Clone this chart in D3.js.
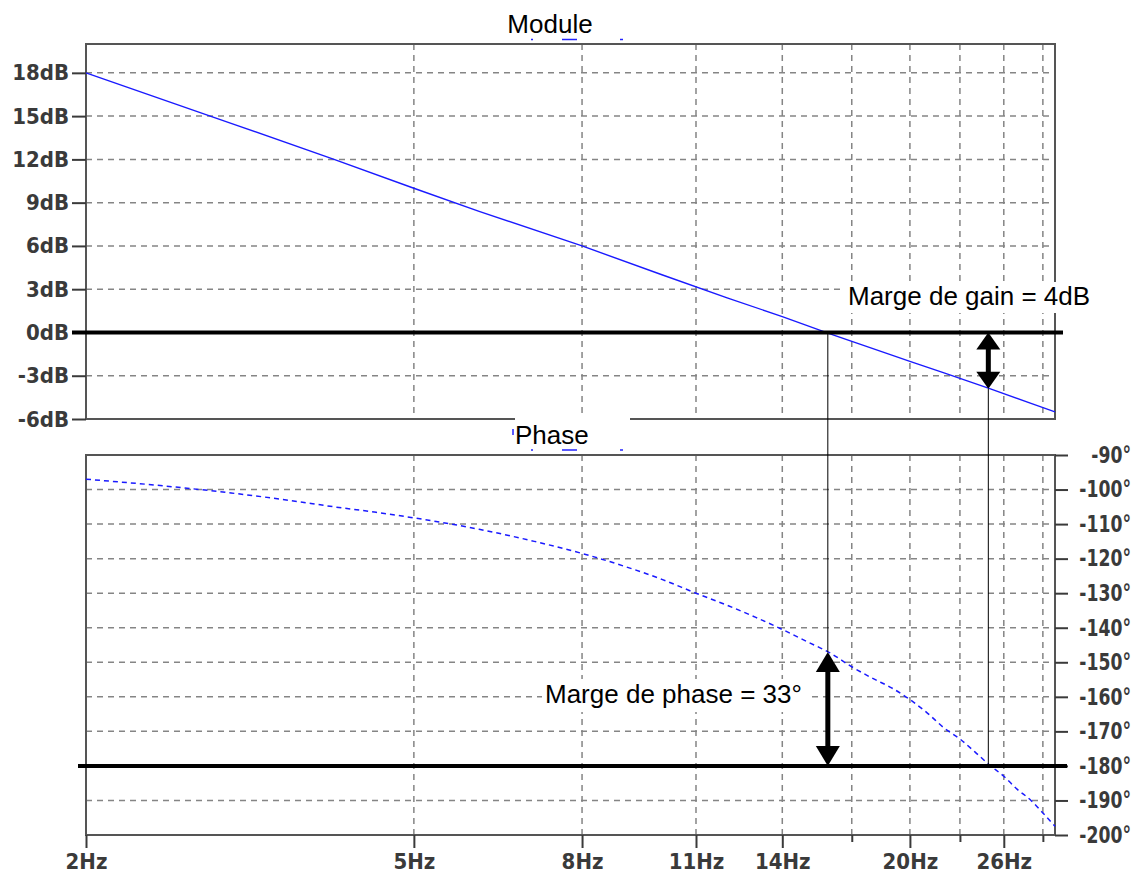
<!DOCTYPE html>
<html><head><meta charset="utf-8">
<script src="https://cdn.jsdelivr.net/npm/d3@7"></script>
<style>
body{margin:0;background:#fff;}
.ax text{font-family:"DejaVu Sans Condensed","DejaVu Sans";font-stretch:condensed;font-weight:bold;font-size:22px;fill:#3a3a3a;}
.ax line{stroke:#3a3a3a;stroke-width:2;}
.lbl{font-family:"Liberation Sans",Arial,sans-serif;font-size:26px;fill:#000;}
</style></head>
<body><svg id="c" width="1139" height="873"></svg>
<script>
// ---- data ----
const freqTicks = [2, 5, 8, 11, 14, 17, 20, 23, 26, 29];
const freqLabels = ["2Hz", "5Hz", "8Hz", "11Hz", "14Hz", "", "20Hz", "", "26Hz", ""];
const gainTicks = [-6, -3, 0, 3, 6, 9, 12, 15, 18];
const phaseTicks = [-90, -100, -110, -120, -130, -140, -150, -160, -170, -180, -190, -200];
const gainFreq = [2, 3, 4, 5, 6, 8, 10, 12, 14, 16, 18, 20, 22, 25, 28, 30];
const gainDb = [18, 14.5, 12.0, 10.0, 8.4, 6.0, 4.0, 2.4, 1.1, -0.1, -1.1, -2.0, -2.8, -3.9, -4.9, -5.5];
const phaseFreq = [2, 2.5, 3, 3.5, 4, 4.5, 5, 6, 7, 8, 9, 10, 11, 12, 13, 14, 15, 16, 17, 18, 19, 20, 21, 22, 23, 24, 25, 26, 27, 28, 29, 30];
const phaseDeg = [-97.0, -99.0, -101.0, -103.0, -105.0, -106.6, -108.2, -111.5, -115.0, -118.5, -122.2, -126.0, -130.0, -133.5, -137.0, -140.5, -144.0, -147.3, -151.3, -154.6, -157.4, -160.8, -164.7, -169.0, -172.2, -176.0, -179.8, -183.0, -186.8, -189.8, -193.6, -197.5];
const gainCross = 15.9, phaseCross = 24.9;
const gainMarginDb = -3.9, phaseAtCross = -147;
const titles = ["Module", "Phase"];
const notes = ["Marge de gain = 4dB", "Marge de phase = 33°"];

// ---- layout ----
const svg = d3.select("#c");
const L = 86, R = 1055;
const gT = 44, gB = 419, pT = 455, pB = 835;
const x = d3.scaleLog().domain([2, 30]).range([L, R]);
const yG = d3.scaleLinear().domain([-6, 20]).range([gB, gT]);
const yP = d3.scaleLinear().domain([-200, -90]).range([pB, pT]);

const grid = svg.append("g").attr("stroke", "#858585").attr("stroke-width", 1.5).attr("stroke-dasharray", "6,5");
gainTicks.filter(d => d !== 0 && d !== -6).forEach(d =>
  grid.append("line").attr("x1", L).attr("x2", R).attr("y1", yG(d)).attr("y2", yG(d)));
phaseTicks.filter(d => d !== -90 && d !== -200).forEach(d =>
  grid.append("line").attr("x1", L).attr("x2", R).attr("y1", yP(d)).attr("y2", yP(d)));
freqTicks.slice(1).forEach(f => {
  grid.append("line").attr("x1", x(f)).attr("x2", x(f)).attr("y1", gT).attr("y2", gB);
  grid.append("line").attr("x1", x(f)).attr("x2", x(f)).attr("y1", pT).attr("y2", pB);
});

// frames
[[gT, gB], [pT, pB]].forEach(([t, b]) =>
  svg.append("rect").attr("x", L).attr("y", t).attr("width", R - L).attr("height", b - t)
    .attr("fill", "none").attr("stroke", "#555").attr("stroke-width", 2));

// axes
const ga = svg.append("g").attr("class", "ax").attr("transform", `translate(${L},0)`)
  .call(d3.axisLeft(yG).tickValues(gainTicks).tickSize(14).tickSizeOuter(0).tickPadding(3).tickFormat(d => d + "dB"));
ga.select(".domain").remove();

const pa = svg.append("g").attr("class", "ax").attr("transform", `translate(${R},0)`)
  .call(d3.axisRight(yP).tickValues(phaseTicks).tickSize(13).tickSizeOuter(0).tickFormat(d => d + "°"));
pa.select(".domain").remove();
pa.selectAll("text").attr("text-anchor", "end").attr("x", 0)
  .attr("transform", "translate(76,0) scale(0.87,1.04)");

const xa = svg.append("g").attr("class", "ax").attr("transform", `translate(0,${pB})`)
  .call(d3.axisBottom(x).tickValues(freqTicks).tickSize(13).tickSizeOuter(0).tickFormat((d, i) => freqLabels[i]));
xa.select(".domain").remove();
xa.selectAll(".tick").each(function (d, i) {
  if (!freqLabels[i]) d3.select(this).select("line").attr("y2", 7);
});
xa.selectAll("text").attr("y", 34).attr("dy", 0);

// curves
svg.append("path").datum(gainFreq.map((f, i) => [f, gainDb[i]]))
  .attr("d", d3.line().x(d => x(d[0])).y(d => yG(d[1])))
  .attr("fill", "none").attr("stroke", "#1a1aff").attr("stroke-width", 1.4);
svg.append("path").datum(phaseFreq.map((f, i) => [f, phaseDeg[i]]))
  .attr("d", d3.line().curve(d3.curveMonotoneX).x(d => x(d[0])).y(d => yP(d[1])))
  .attr("fill", "none").attr("stroke", "#1a1aff").attr("stroke-width", 1.5).attr("stroke-dasharray", "5,4");

// thin vertical lines
svg.append("line").attr("x1", x(gainCross)).attr("x2", x(gainCross)).attr("y1", yG(0)).attr("y2", yP(phaseAtCross)).attr("stroke", "#000").attr("stroke-width", 1);
svg.append("line").attr("x1", x(phaseCross)).attr("x2", x(phaseCross)).attr("y1", yG(gainMarginDb)).attr("y2", yP(-180)).attr("stroke", "#000").attr("stroke-width", 1);

// thick reference lines
svg.append("line").attr("x1", 72).attr("x2", 1063).attr("y1", yG(0)).attr("y2", yG(0)).attr("stroke", "#000").attr("stroke-width", 4);
svg.append("line").attr("x1", 78).attr("x2", 1067).attr("y1", yP(-180)).attr("y2", yP(-180)).attr("stroke", "#000").attr("stroke-width", 4);

// double arrows
function dblArrow(cx, y1, y2, hl, hw) {
  const g = svg.append("g");
  g.append("line").attr("x1", cx).attr("x2", cx).attr("y1", y1 + hl - 2).attr("y2", y2 - hl + 2).attr("stroke", "#000").attr("stroke-width", 5);
  g.append("path").attr("d", `M${cx},${y1}L${cx - hw},${y1 + hl}L${cx + hw},${y1 + hl}Z`).attr("fill", "#000");
  g.append("path").attr("d", `M${cx},${y2}L${cx - hw},${y2 - hl}L${cx + hw},${y2 - hl}Z`).attr("fill", "#000");
}
dblArrow(x(phaseCross), yG(0), yG(gainMarginDb), 17, 12);
dblArrow(x(gainCross), yP(phaseAtCross), yP(-180), 20, 12);

// titles
svg.append("rect").attr("x", 515).attr("y", 416).attr("width", 115).attr("height", 32).attr("fill", "#fff");
svg.append("text").attr("class", "lbl").attr("x", 550).attr("y", 33).attr("text-anchor", "middle").text(titles[0]);
svg.append("text").attr("class", "lbl").attr("x", 515).attr("y", 444).text(titles[1]);

// small blue remnants next to the titles
const marks = svg.append("g").attr("stroke", "#2222ff").attr("stroke-width", 1.5);
[[531, 533], [562, 577], [620, 623]].forEach(([a, b]) => {
  marks.append("line").attr("x1", a).attr("x2", b).attr("y1", 39.5).attr("y2", 39.5);
  marks.append("line").attr("x1", a).attr("x2", b).attr("y1", 450).attr("y2", 450);
});
marks.append("line").attr("x1", 513).attr("x2", 513).attr("y1", 429).attr("y2", 435);

// annotations with white backgrounds
svg.append("rect").attr("x", 845).attr("y", 282).attr("width", 252).attr("height", 31).attr("fill", "#fff");
svg.append("text").attr("class", "lbl").attr("x", 848).attr("y", 305).text(notes[0]);
svg.append("rect").attr("x", 542).attr("y", 679).attr("width", 266).attr("height", 33).attr("fill", "#fff");
svg.append("text").attr("class", "lbl").attr("x", 545).attr("y", 703).text(notes[1]);
</script></body></html>
